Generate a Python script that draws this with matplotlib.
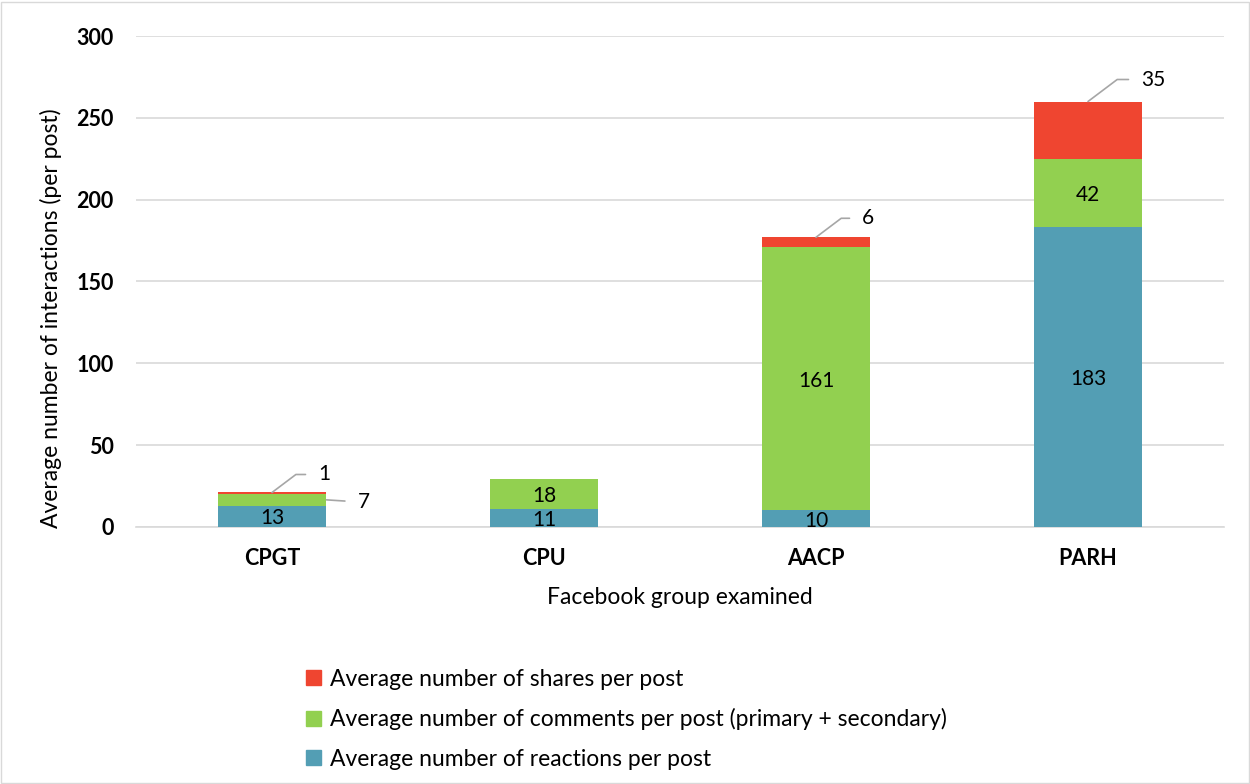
import numpy as np
import matplotlib.pyplot as plt
from matplotlib.patches import Rectangle, Patch

plt.rcParams['font.family'] = ['Lato', 'DejaVu Sans']

groups = ['CPGT', 'CPU', 'AACP', 'PARH']
reactions = [13, 11, 10, 183]
comments = [7, 18, 161, 42]
shares = [1, 0, 6, 35]

c_react = '#539EB4'
c_comm = '#92D050'
c_share = '#EF4530'

fig = plt.figure(figsize=(12.5, 7.84), dpi=100)
ax = fig.add_axes([0.1088, 0.328, 0.8704, 0.626])

x = np.arange(len(groups))
w = 0.4
react = np.array(reactions)
comm = np.array(comments)
shr = np.array(shares)

ax.bar(x, react, w, color=c_react, zorder=3)
ax.bar(x, comm, w, bottom=react, color=c_comm, zorder=3)
ax.bar(x, shr, w, bottom=react + comm, color=c_share, zorder=3)

ax.set_xlim(-0.5, 3.5)
ax.set_ylim(0, 300)
ax.set_yticks(range(0, 301, 50))
ax.set_xticks(x)
ax.set_xticklabels(groups, fontsize=15.5, fontweight='bold')
ax.tick_params(axis='y', labelsize=15.5, length=0, pad=16)
ax.tick_params(axis='x', length=0, pad=15)
for t in ax.get_yticklabels():
    t.set_fontweight('bold')
ax.grid(axis='y', color='#D9D9D9', linewidth=1.2, zorder=0)
for s in ['top', 'right', 'left']:
    ax.spines[s].set_visible(False)
ax.spines['bottom'].set_color('#D9D9D9')
ax.spines['bottom'].set_linewidth(1.2)

ax.set_ylabel('Average number of interactions (per post)', fontsize=16.5)
ax.yaxis.set_label_coords(-0.068, 0.426)
ax.set_xlabel('Facebook group examined', fontsize=16.5)
ax.xaxis.set_label_coords(0.5, -0.122)

# labels inside segments
fs = 15
for i in range(len(groups)):
    ax.text(x[i], react[i] / 2, str(reactions[i]), ha='center', va='center_baseline', fontsize=fs, zorder=4)
    if i != 0:
        ax.text(x[i], react[i] + comm[i] / 2, str(comments[i]), ha='center', va='center_baseline',
                fontsize=fs, zorder=4)

# leader-line labels (px -> pt: 0.72)
lc = '#A6A6A6'
def leader(xi, yi, dx, dy, txt):
    ax.annotate(txt, xy=(xi, yi), xytext=(dx * 0.72, dy * 0.72), textcoords='offset points',
                ha='left', va='center_baseline', fontsize=fs, zorder=5,
                arrowprops=dict(arrowstyle='-', color=lc, lw=1.2, shrinkA=7, shrinkB=0,
                                relpos=(0, 0.5), connectionstyle='angle,angleA=0,angleB=37'))

top = react + comm + shr
leader(x[0], top[0], 46, 20, str(shares[0]))
leader(x[2], top[2], 46, 21, str(shares[2]))
leader(x[3], top[3], 53, 24, str(shares[3]))
ax.annotate(str(comments[0]), xy=(x[0] + w / 2, react[0] + comm[0] / 2), xytext=(31 * 0.72, 0),
            textcoords='offset points', ha='left', va='center_baseline', fontsize=fs, zorder=5,
            arrowprops=dict(arrowstyle='-', color=lc, lw=1.2, shrinkA=7, shrinkB=0, relpos=(0, 0.5)))

handles = [Patch(color=c_share), Patch(color=c_comm), Patch(color=c_react)]
labels = ['Average number of shares per post',
          'Average number of comments per post (primary + secondary)',
          'Average number of reactions per post']
fig.legend(handles, labels, loc='upper left', bbox_to_anchor=(0.236, 0.1615), frameon=False,
           fontsize=16.5, handlelength=0.62, handleheight=0.62, handletextpad=0.4, labelspacing=0.8,
           borderpad=0)

fig.patches.append(Rectangle((0.0008, 0.001), 0.9984, 0.996, transform=fig.transFigure,
                             fill=False, edgecolor='#D9D9D9', linewidth=1))

fig.savefig('out.png', dpi=100)
